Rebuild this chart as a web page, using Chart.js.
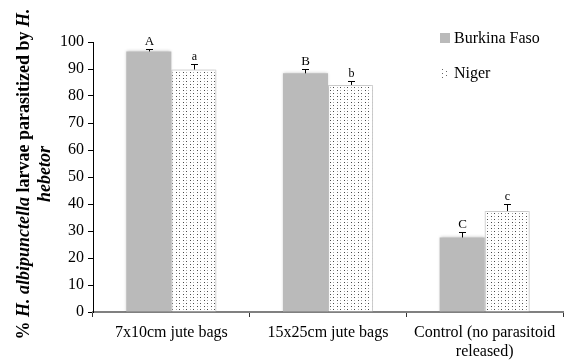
<!DOCTYPE html>
<html>
<head>
<meta charset="utf-8">
<script src="https://cdn.jsdelivr.net/npm/chart.js@4/dist/chart.umd.min.js"></script>
<style>
  html, body { margin: 0; padding: 0; background: #fff; }
  #wrap { width: 581px; height: 363px; position: relative; }
  #probe { position: absolute; left: 0; top: 0; font-family: "Liberation Serif"; font-size: 15px; color: transparent; }
</style>
</head>
<body>
<div id="wrap"><canvas id="c" width="581" height="363"></canvas><span id="probe"><b>.</b><i>.</i><b><i>.</i></b>.</span></div>
<script>
// Parasitism of H. albipunctella larvae by H. hebetor, per release method
const categories = ['7x10cm jute bags', '15x25cm jute bags', ['Control (no parasitoid', 'released)']];
const burkinaValues = [96.5, 88.4, 27.6];
const nigerValues = [89.8, 84.1, 37.4];
const burkinaErrors = [1.0, 1.5, 2.0];
const nigerErrors = [2.0, 1.5, 2.5];
const burkinaLetters = ['A', 'B', 'C'];
const nigerLetters = ['a', 'b', 'c'];
const yTicks = [0, 10, 20, 30, 40, 50, 60, 70, 80, 90, 100];

const SERIF = "'Liberation Serif', 'DejaVu Serif', serif";

// stippled fill used for the Niger bars
function makeStipple() {
  const t = document.createElement('canvas');
  t.width = 7; t.height = 6;
  const g = t.getContext('2d');
  g.fillStyle = '#ffffff';
  g.fillRect(0, 0, 7, 6);
  g.fillStyle = '#444';
  g.fillRect(1, 0, 1, 1);
  g.fillRect(4, 3, 1, 1);
  g.fillStyle = '#aaa';
  g.fillRect(1, 3, 1, 1);
  g.fillRect(4, 0, 1, 1);
  return g.createPattern(t, 'repeat');
}

// soft shadow around the bars
const barShadow = {
  id: 'barShadow',
  beforeDatasetDraw(chart) {
    const ctx = chart.ctx;
    ctx.save();
    ctx.shadowColor = 'rgba(0,0,0,0.22)';
    ctx.shadowBlur = 3;
  },
  afterDatasetDraw(chart) {
    chart.ctx.restore();
  }
};

// upper error whiskers and significance letters
const whiskers = {
  id: 'whiskers',
  afterDatasetsDraw(chart) {
    const ctx = chart.ctx;
    const y = chart.scales.y;
    const sets = [
      { errs: burkinaErrors, vals: burkinaValues, letters: burkinaLetters, size: 13 },
      { errs: nigerErrors, vals: nigerValues, letters: nigerLetters, size: 12 }
    ];
    ctx.save();
    sets.forEach((s, di) => {
      const meta = chart.getDatasetMeta(di);
      meta.data.forEach((bar, i) => {
        const x = Math.round(bar.x);
        const yTop = y.getPixelForValue(s.vals[i]);
        const yErr = Math.round(y.getPixelForValue(s.vals[i] + s.errs[i]));
        ctx.strokeStyle = '#000';
        ctx.lineWidth = 1;
        ctx.beginPath();
        ctx.moveTo(x + 0.5, yTop);
        ctx.lineTo(x + 0.5, yErr);
        ctx.moveTo(x - 3, yErr + 0.5);
        ctx.lineTo(x + 4, yErr + 0.5);
        ctx.stroke();
        ctx.fillStyle = '#000';
        ctx.font = s.size + 'px ' + SERIF;
        ctx.textAlign = 'center';
        ctx.textBaseline = 'alphabetic';
        ctx.fillText(s.letters[i], x + 0.5, yErr - 4);
      });
    });
    ctx.restore();
  }
};

// legend in the upper right of the plot area
const legendBox = {
  id: 'legendBox',
  afterDraw(chart) {
    const ctx = chart.ctx;
    ctx.save();
    ctx.fillStyle = '#bababa';
    ctx.fillRect(440, 33, 10, 10);
    ctx.fillStyle = '#666';
    [[442, 69], [442, 73], [442, 77], [446, 71], [446, 75]].forEach(p => ctx.fillRect(p[0], p[1], 1, 1));
    ctx.fillStyle = '#000';
    ctx.font = '16px ' + SERIF;
    ctx.textAlign = 'left';
    ctx.textBaseline = 'middle';
    ctx.fillText('Burkina Faso', 454, 39);
    ctx.fillText('Niger', 454, 74);
    ctx.restore();
  }
};

// rotated y-axis title with italic species names
const yTitle = {
  id: 'yTitle',
  afterDraw(chart) {
    const ctx = chart.ctx;
    const lines = [
      [['% ', false], ['H. albipunctella', true], [' larvae parasitized by ', false], ['H.', true]],
      [['hebetor', true]]
    ];
    const xs = [24, 45];
    const cy = 174;
    ctx.save();
    ctx.fillStyle = '#000';
    ctx.textBaseline = 'middle';
    ctx.textAlign = 'left';
    lines.forEach((parts, li) => {
      const fontOf = it => (it ? 'italic ' : '') + 'bold 18px ' + SERIF;
      let total = 0;
      parts.forEach(p => { ctx.font = fontOf(p[1]); total += ctx.measureText(p[0]).width; });
      ctx.save();
      ctx.translate(xs[li], cy);
      ctx.rotate(-Math.PI / 2);
      let pos = -total / 2;
      parts.forEach(p => {
        ctx.font = fontOf(p[1]);
        ctx.fillText(p[0], pos, 0);
        pos += ctx.measureText(p[0]).width;
      });
      ctx.restore();
    });
    ctx.restore();
  }
};

function draw() {
  const stipple = makeStipple();
  new Chart(document.getElementById('c'), {
    type: 'bar',
    data: {
      labels: categories,
      datasets: [
        {
          label: 'Burkina Faso',
          data: burkinaValues,
          backgroundColor: '#bababa',
          borderWidth: 0,
          barPercentage: 1.0,
          categoryPercentage: 0.575
        },
        {
          label: 'Niger',
          data: nigerValues,
          backgroundColor: stipple,
          borderColor: '#dcdcdc',
          borderWidth: 1,
          barPercentage: 1.0,
          categoryPercentage: 0.575
        }
      ]
    },
    options: {
      responsive: false,
      animation: false,
      devicePixelRatio: 1,
      layout: { padding: { top: 42, right: 18, left: 0, bottom: 0 } },
      plugins: {
        legend: { display: false },
        tooltip: { enabled: false }
      },
      scales: {
        x: {
          grid: {
            offset: true,
            drawOnChartArea: false,
            drawTicks: true,
            tickLength: 5,
            color: '#333'
          },
          border: { color: '#808080', width: 2 },
          ticks: {
            color: '#000',
            font: { family: SERIF, size: 16 },
            padding: 6,
            maxRotation: 0,
            autoSkip: false
          },
          afterFit(scale) { scale.height = 51; }
        },
        y: {
          min: 0,
          max: 100,
          afterBuildTicks(scale) { scale.ticks = yTicks.map(v => ({ value: v })); },
          grid: {
            drawOnChartArea: false,
            drawTicks: true,
            tickLength: 5,
            color: '#000'
          },
          border: { color: '#000', width: 1 },
          ticks: {
            color: '#000',
            font: { family: SERIF, size: 16 },
            padding: 4
          },
          afterFit(scale) { scale.width = 93; }
        }
      }
    },
    plugins: [barShadow, whiskers, legendBox, yTitle]
  });
}

Chart.defaults.font.family = SERIF;
const loads = ['15px', 'bold 15px', 'italic bold 15px', 'italic 15px'].map(f =>
  document.fonts.load(f + " 'Liberation Serif'").catch(() => null));
Promise.all(loads).then(draw, draw);
</script>
</body>
</html>
